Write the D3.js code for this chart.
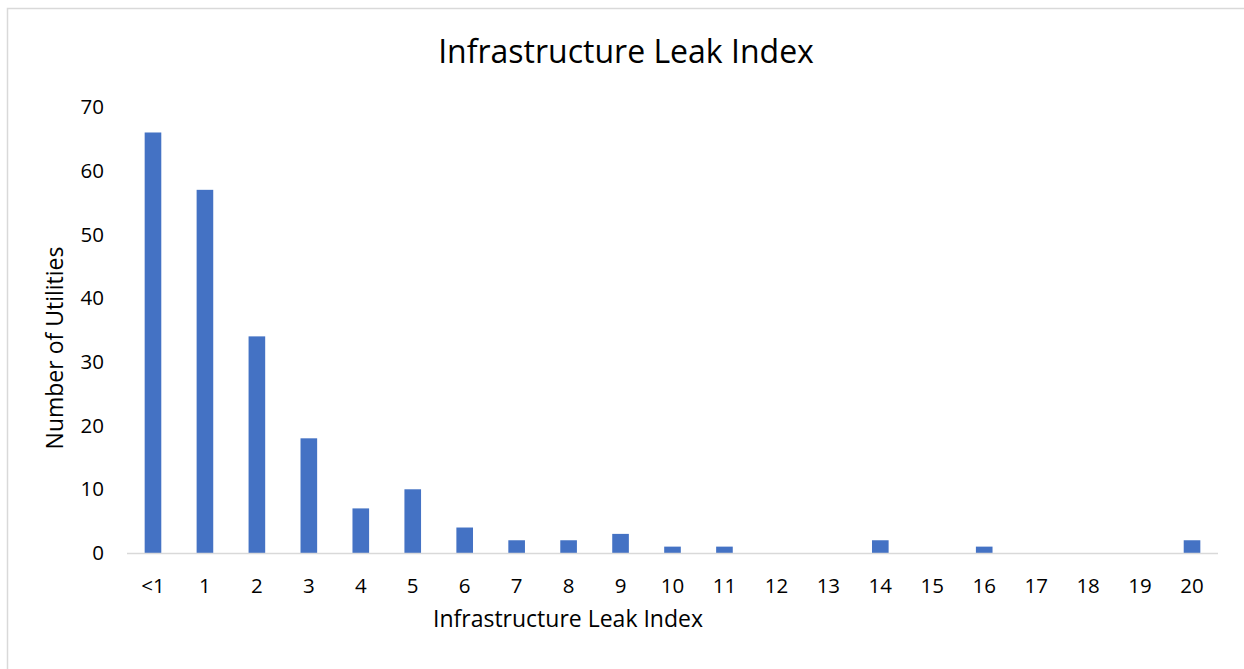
<!DOCTYPE html>
<html>
<head>
<meta charset="utf-8">
<script src="https://cdn.jsdelivr.net/npm/d3@7"></script>
<style>
  body { margin: 0; background: #fff; }
  text { font-family: "Open Sans", "Liberation Sans", sans-serif; fill: #000; }
</style>
</head>
<body>
<svg id="chart" width="1244" height="669"></svg>
<script>
// categories and counts
var categories = ["<1", "1", "2", "3", "4", "5", "6", "7", "8", "9", "10",
                  "11", "12", "13", "14", "15", "16", "17", "18", "19", "20"];
var counts = [66, 57, 34, 18, 7, 10, 4, 2, 2, 3, 1, 1, 0, 0, 2, 0, 1, 0, 0, 0, 2];
var yTicks = [0, 10, 20, 30, 40, 50, 60, 70];

var svg = d3.select("#chart");

// outer chart border (right/bottom run off the picture)
svg.append("rect")
    .attr("x", 7.5).attr("y", 8.5)
    .attr("width", 1260).attr("height", 700)
    .attr("fill", "none").attr("stroke", "#d9d9d9").attr("stroke-width", 1.5);

var plotLeft = 127, plotRight = 1218, plotTop = 107, plotBottom = 553;

var x = d3.scaleBand()
    .domain(categories)
    .range([plotLeft, plotRight])
    .paddingInner(0.68)
    .paddingOuter(0.34);

var y = d3.scaleLinear()
    .domain([0, 70])
    .range([plotBottom, plotTop]);

// bars
svg.append("g")
    .selectAll("rect")
    .data(counts)
    .enter().append("rect")
    .attr("x", function (d, i) { return x(categories[i]); })
    .attr("y", function (d) { return y(d); })
    .attr("width", x.bandwidth())
    .attr("height", function (d) { return y(0) - y(d); })
    .attr("fill", "#4472c4");

// x axis line
svg.append("line")
    .attr("x1", plotLeft).attr("x2", plotRight)
    .attr("y1", plotBottom + 0.5).attr("y2", plotBottom + 0.5)
    .attr("stroke", "#d9d9d9").attr("stroke-width", 1.5);

// x tick labels
svg.append("g")
    .selectAll("text")
    .data(categories)
    .enter().append("text")
    .attr("x", function (d) { return x(d) + x.bandwidth() / 2; })
    .attr("y", 586)
    .attr("dy", "0.35em")
    .attr("text-anchor", "middle")
    .style("font-size", "20.5px")
    .text(function (d) { return d; });

// y tick labels
svg.append("g")
    .selectAll("text")
    .data(yTicks)
    .enter().append("text")
    .attr("x", 104)
    .attr("y", function (d) { return y(d); })
    .attr("dy", "0.35em")
    .attr("text-anchor", "end")
    .style("font-size", "20.5px")
    .text(function (d) { return d; });

// title
svg.append("text")
    .attr("x", 626).attr("y", 52)
    .attr("dy", "0.35em")
    .attr("text-anchor", "middle")
    .style("font-size", "32px")
    .text("Infrastructure Leak Index");

// axis titles
svg.append("text")
    .attr("x", 568).attr("y", 619)
    .attr("dy", "0.35em")
    .attr("text-anchor", "middle")
    .style("font-size", "23px")
    .text("Infrastructure Leak Index");

svg.append("text")
    .attr("transform", "translate(55,348) rotate(-90)")
    .attr("dy", "0.35em")
    .attr("text-anchor", "middle")
    .style("font-size", "23px")
    .text("Number of Utilities");
</script>
</body>
</html>
